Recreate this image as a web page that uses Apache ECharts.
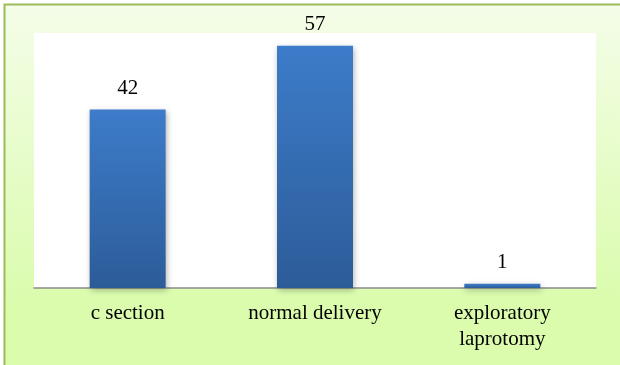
<!DOCTYPE html>
<html>
<head>
<meta charset="utf-8">
<script src="https://cdn.jsdelivr.net/npm/echarts@6/dist/echarts.min.js"></script>
<style>
html,body{margin:0;padding:0;}
#c{width:620px;height:365px;}
</style>
</head>
<body>
<div id="c"></div>
<script>
const categories = ['c section', 'normal delivery', 'exploratory\nlaprotomy'];
const values = [42, 57, 1];

const chart = echarts.init(document.getElementById('c'), null, {renderer: 'canvas'});
chart.setOption({
  animation: false,
  graphic: [{
    type: 'rect',
    z: -10,
    shape: {x: 4, y: 4, width: 640, height: 380},
    style: {
      fill: new echarts.graphic.LinearGradient(0, 0, 0, 1, [
        {offset: 0, color: '#f4fde8'},
        {offset: 0.8, color: '#dafcac'},
        {offset: 1, color: '#dafcac'}
      ])
    }
  }, {
    type: 'polyline',
    z: -9,
    shape: {points: [[4.5, 380], [4.5, 4.5], [640, 4.5]]},
    style: {stroke: '#9bbb59', lineWidth: 2, fill: null}
  }],
  grid: {
    left: 34, right: 24, top: 33, bottom: 77,
    show: true, backgroundColor: '#ffffff', borderWidth: 0
  },
  xAxis: {
    type: 'category',
    data: categories,
    axisTick: {show: false},
    axisLine: {lineStyle: {color: '#8c8c8c', width: 1.5}},
    axisLabel: {
      color: '#000', fontFamily: 'Liberation Serif', fontSize: 21,
      margin: 12, lineHeight: 26, interval: 0
    }
  },
  yAxis: {
    type: 'value', min: 0, max: 60,
    show: false, splitLine: {show: false}
  },
  series: [{
    type: 'bar',
    data: values,
    barWidth: 76,
    itemStyle: {
      color: new echarts.graphic.LinearGradient(0, 0, 0, 1, [
        {offset: 0, color: '#3d7cca'},
        {offset: 1, color: '#2c5c98'}
      ]),
      shadowColor: 'rgba(0,0,0,0.3)',
      shadowBlur: 6,
      shadowOffsetX: 1,
      shadowOffsetY: 2
    },
    label: {
      show: true, position: 'top', distance: 11,
      color: '#000', fontFamily: 'Liberation Serif', fontSize: 21
    }
  }]
});
</script>
</body>
</html>
